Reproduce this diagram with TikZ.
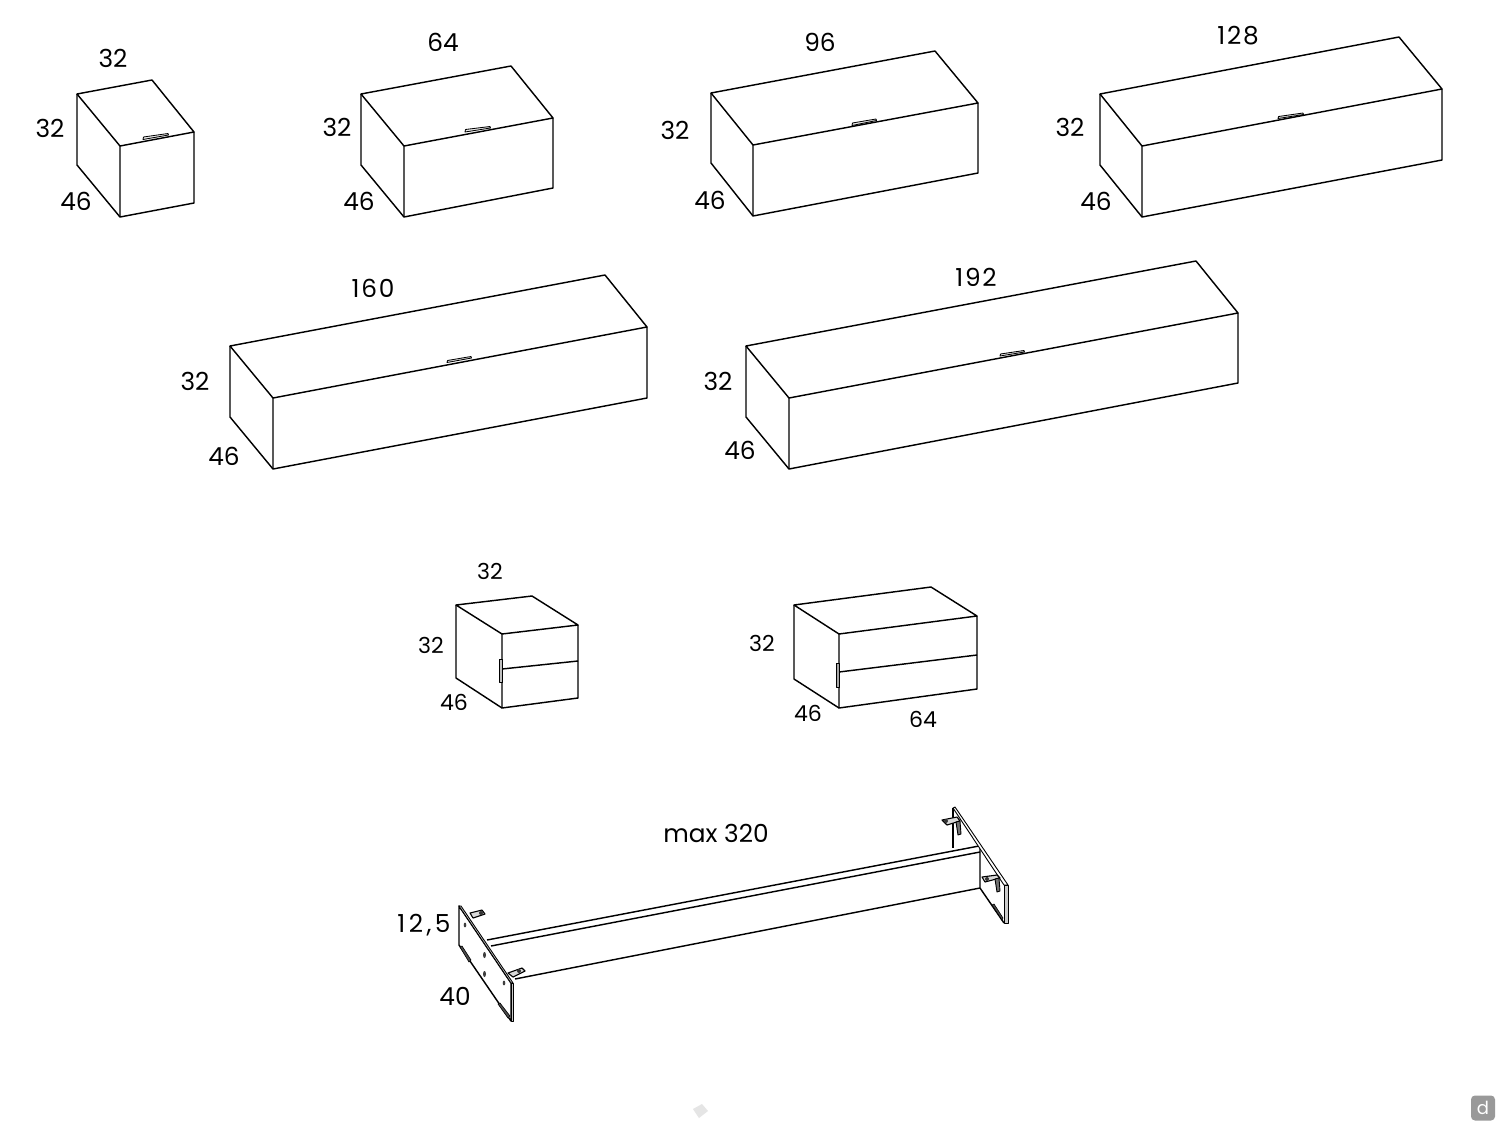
\documentclass[tikz,border=0pt]{standalone}
\usepackage{fontspec}
\setmainfont{Poppins}
\tikzset{
  edge/.style={draw=black,line width=0.72pt,line join=round},
  thin part/.style={draw=black,line width=0.45pt,line join=round},
  pull/.style={draw=black,line width=0.42pt,line join=round,fill=black!8},
  big/.style={inner sep=0pt,font=\fontsize{12.4}{14}\selectfont,text=black},
  wide/.style={big,font=\fontsize{12.4}{14}\selectfont\addfontfeature{LetterSpace=7}},
  small/.style={inner sep=0pt,font=\fontsize{11}{13}\selectfont,text=black},
  tab/.style={fill=black!70,draw=black,line width=0.3pt},
  hole/.style={fill=black!75,draw=none},
  clip part/.style={draw=black,line width=0.55pt,line join=round,fill=black!15},
}
% back-left, back-right, front-right, front-left (top) ; front-bottom, right-bottom, left-bottom
\newcommand{\cabinet}[7]{%
  \draw[edge] #1 -- #2 -- #3 -- #4 -- cycle;
  \draw[edge] #4 -- #5 -- #6 -- #3;
  \draw[edge] #1 -- #7 -- #5;
}
\begin{document}
\begin{tikzpicture}[x=0.5pt,y=-0.5pt]
\useasboundingbox[fill=white] (0,0) rectangle (1500,1125);

% top row
\cabinet{(77,94)}{(152,80)}{(194,132)}{(120,146)}{(120,217)}{(194,203)}{(77,165)}
\draw[pull] (143,139.5) -- (143.5,137) -- (168,133.5) -- (168.5,135) -- cycle;
\cabinet{(361,94)}{(511,66)}{(553,118)}{(404,146)}{(404,217)}{(553,188)}{(361,165)}
\draw[pull] (465,132) -- (465.5,129.5) -- (490,126.5) -- (490.5,128) -- cycle;
\cabinet{(711,93)}{(935,51)}{(978,103)}{(753,145)}{(753,216)}{(978,173)}{(711,163)}
\draw[pull] (852,125.5) -- (852.5,123) -- (876,119) -- (876.5,120.5) -- cycle;
\cabinet{(1100,94)}{(1399,37)}{(1442,89)}{(1142,146)}{(1142,217)}{(1442,160)}{(1100,165)}
\draw[pull] (1278,118.5) -- (1278.5,116.5) -- (1303,113) -- (1303.5,114.5) -- cycle;

% second row
\cabinet{(230,346)}{(605,275)}{(647,327)}{(273,398)}{(273,469)}{(647,398)}{(230,417)}
\draw[pull] (447,362.5) -- (447.5,360.5) -- (471,356.5) -- (471.5,358) -- cycle;
\cabinet{(746,346)}{(1196,261)}{(1238,313)}{(789,398)}{(789,469)}{(1238,383)}{(746,417)}
\draw[pull] (1000,356) -- (1000.5,354) -- (1024,350.5) -- (1024.5,352) -- cycle;

% two-drawer units
\cabinet{(456,605)}{(532,596)}{(578,625)}{(502,634)}{(502,708)}{(578,698)}{(456,678)}
\draw[edge] (502,669) -- (578,661);
\draw[thin part,fill=black!25] (499,659) rectangle (502,682);
\cabinet{(794,605)}{(931,587)}{(977,616)}{(839,634)}{(839,708)}{(977,689)}{(794,679)}
\draw[edge] (839,672) -- (977,655);
\draw[thin part,fill=black!35] (836.5,663) rectangle (839.5,687);

% frame: beam
\draw[edge] (953,808) -- (953,848);
\draw[edge] (487,940) -- (979,846);
\draw[edge] (491,946) -- (980,852);
\draw[edge] (515,979) -- (980,888);
\draw[edge] (980,847) -- (980,888) -- (1004,923);

% right plate
\draw[thin part,fill=white] (953,808) -- (955,807) -- (1008,885) -- (1004,885) -- cycle;
\draw[thin part,fill=black!20] (1004,885) -- (1008,885) -- (1008,923) -- (1004,923) -- cycle;
\draw[tab] (992,905) -- (994,904) -- (1003,918) -- (1002,920) -- cycle;
% right plate brackets
\draw[clip part] (942,820) -- (957,817) -- (960,821) -- (947,825) -- cycle;
\fill[black!80] (946,821) circle (2);
\draw[thin part,fill=black!55] (956,822) -- (960,821) -- (961,834) -- (958,835) -- cycle;
\draw[clip part] (982,877) -- (997,875) -- (1000,878) -- (985,882) -- cycle;
\fill[black!80] (987,879) circle (2);
\draw[thin part,fill=black!55] (995,879) -- (999,878) -- (1000,891) -- (997,892) -- cycle;

% left plate brackets
\draw[clip part] (470,913) -- (482,910) -- (485,914) -- (473,918) -- cycle;
\fill[black!80] (481,913) circle (2);
\draw[clip part] (508,973) -- (522,968) -- (525,971) -- (513,977) -- cycle;
\fill[black!80] (519,971) circle (2);

% left plate
\draw[edge,fill=white] (459,906) -- (511,983) -- (511,1021) -- (459,945) -- cycle;
\draw[thin part,fill=white] (459,906) -- (461,906) -- (513,983) -- (511,983) -- cycle;
\draw[thin part,fill=black!20] (511,983) -- (513.5,983) -- (513.5,1021) -- (511,1021) -- cycle;
\draw[tab] (460,947) -- (462,946) -- (471,960) -- (469,962) -- cycle;
\draw[tab] (498,1004) -- (500,1003) -- (510,1016) -- (508,1018) -- cycle;
\fill[hole] (465,925) ellipse (1.3 and 2.4);
\fill[hole] (484.5,955) ellipse (1.5 and 3);
\fill[hole] (484.5,974) ellipse (1.5 and 3);
\fill[hole] (504,983) ellipse (1.3 and 2.4);

% labels
\node[big] (a1) at (113,58) {32};
\node[big] (a2) at (50,128) {32};
\node[big] (a3) at (76,201) {46};
\node[big] (b1) at (443,42) {64};
\node[big] (b2) at (337,127) {32};
\node[big] (b3) at (359,201) {46};
\node[big] (c1) at (820,42) {96};
\node[big] (c2) at (675,130) {32};
\node[big] (c3) at (710,200) {46};
\node[wide] (d1) at (1238,36) {128};
\node[big] (d2) at (1070,127) {32};
\node[big] (d3) at (1096,201) {46};
\node[wide] (e1) at (373,288) {160};
\node[big] (e2) at (195,381) {32};
\node[big] (e3) at (224,456) {46};
\node[wide] (f1) at (976,277) {192};
\node[big] (f2) at (718,381) {32};
\node[big] (f3) at (740,450) {46};
\node[small] (g1) at (490,571) {32};
\node[small] (g2) at (431,645) {32};
\node[small] (g3) at (454,702) {46};
\node[small] (h2) at (762,643) {32};
\node[small] (h3) at (808,713) {46};
\node[small] (h1) at (923,719) {64};
\node[big] (k1) at (716,833) {max 320};
\node[wide,font=\fontsize{12.4}{14}\selectfont\addfontfeature{LetterSpace=14}] (k2) at (424,925) {12,5};
\node[big] (k3) at (455,996) {40};

% marks in the corner and at the foot
\fill[black!10] (693,1109) -- (702,1104) -- (708,1111) -- (699,1118) -- cycle;
\node[fill=black!40,rounded corners=2pt,minimum width=12pt,minimum height=12.5pt,inner sep=0pt,text=white,font=\fontsize{9}{10}\selectfont] (mark) at (1483,1108) {d};
\end{tikzpicture}
\end{document}
